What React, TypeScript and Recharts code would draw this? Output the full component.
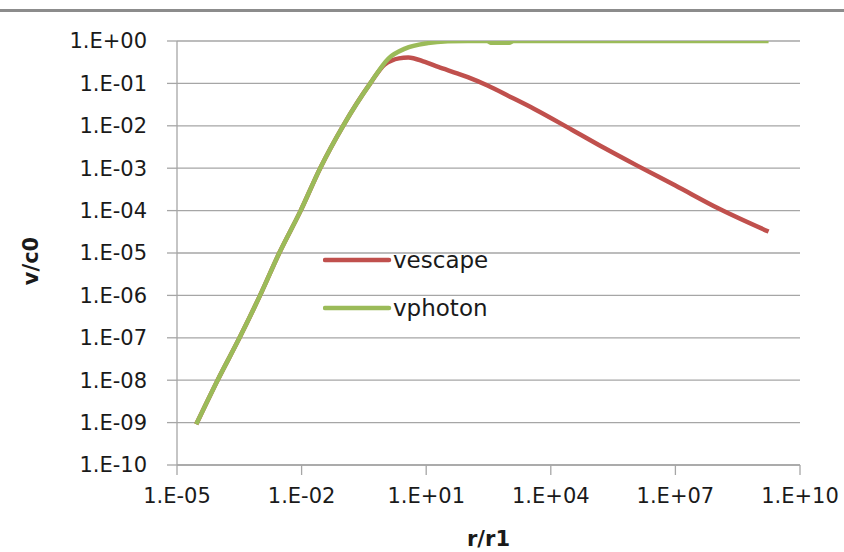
import React from "react";
import { LineChart, Line, XAxis, YAxis, CartesianGrid, Label } from "recharts";

// r/r1 and v/c0 (log-log)
const escapeR = [2.9e-5, 9.5e-5, 3.2e-4, 1e-3, 2.9e-3, 9.5e-3, 0.028, 0.1, 0.45, 1.0, 1.5, 2.2, 3.7, 9.3, 19.5, 58, 100, 300, 1070, 4000, 3.2e4, 2.0e5, 1.2e6, 1e7, 1.1e8, 1.75e9];
const escapeV = [9.1e-10, 1e-8, 1e-7, 1e-6, 1e-5, 1e-4, 1e-3, 0.01, 0.1, 0.28, 0.35, 0.39, 0.41, 0.32, 0.245, 0.17, 0.14, 0.089, 0.048, 0.025, 8.1e-3, 2.95e-3, 1.15e-3, 3.9e-4, 1.12e-4, 3.2e-5];

const photonR = [2.9e-5, 9.5e-5, 3.2e-4, 1e-3, 2.9e-3, 9.5e-3, 0.028, 0.1, 0.45, 1.25, 3.1, 11, 33, 100, 300, 355, 1000, 1260, 1e4, 1e6, 1e8, 1.75e9];
const photonV = [9.1e-10, 1e-8, 1e-7, 1e-6, 1e-5, 1e-4, 1e-3, 0.01, 0.1, 0.39, 0.66, 0.89, 0.98, 1, 1, 0.91, 0.91, 1, 1, 1, 1, 1];

const xTicks = [1e-5, 1e-2, 1e1, 1e4, 1e7, 1e10];
const yTicks = [1e-10, 1e-9, 1e-8, 1e-7, 1e-6, 1e-5, 1e-4, 1e-3, 1e-2, 1e-1, 1];

const seriesNames = ["vescape", "vphoton"];
const COLORS = ["#C0504D", "#9BBB59"];

const escapeData = escapeR.map((r, i) => ({ r, v: escapeV[i] }));
const photonData = photonR.map((r, i) => ({ r, v: photonV[i] }));

// Excel style "1.E-05"
const fmt = (v: number) => {
  const e = Math.round(Math.log10(v));
  return `1.E${e < 0 ? "-" : "+"}${String(Math.abs(e)).padStart(2, "0")}`;
};

const FONT = "'DejaVu Sans', sans-serif";
const tickStyle = { fontSize: 21, fill: "#1a1a1a", fontFamily: FONT };

// legend sits inside the plot, drawn as an overlay so it takes no room from the chart
function LegendBox() {
  return (
    <div style={{ position: "absolute", left: 323, top: 236, fontFamily: FONT, fontSize: 23, color: "#1a1a1a" }}>
      {seriesNames.map((name, i) => (
        <div key={name} style={{ display: "flex", alignItems: "center", height: 48 }}>
          <svg width={70} height={10}>
            <line x1={2} y1={5} x2={66} y2={5} stroke={COLORS[i]} strokeWidth={4.5} strokeLinecap="round" />
          </svg>
          <span>{name}</span>
        </div>
      ))}
    </div>
  );
}

export default function App() {
  return (
    <div style={{ position: "absolute", left: 0, top: 0, width: 844, height: 552, background: "#fff" }}>
      <div style={{ position: "absolute", left: 0, top: 9, width: 844, height: 3, background: "#8c8c8c" }} />
      <LineChart width={844} height={552} margin={{ top: 41, right: 44, left: 0, bottom: 0 }}>
        <CartesianGrid vertical={false} stroke="#a6a6a6" strokeWidth={1.3} />
        <XAxis
          dataKey="r"
          type="number"
          scale="log"
          domain={[1e-5, 1e10]}
          allowDataOverflow
          ticks={xTicks}
          tickFormatter={fmt}
          tick={tickStyle}
          tickSize={10}
          tickMargin={13}
          height={87}
          stroke="#a6a6a6"
          strokeWidth={1.3}
        >
          <Label value="r/r1" position="insideBottom" offset={6} style={{ fontFamily: FONT, fontSize: 21, fontWeight: "bold", fill: "#1a1a1a" }} />
        </XAxis>
        <YAxis
          dataKey="v"
          type="number"
          scale="log"
          domain={[1e-10, 1]}
          allowDataOverflow
          ticks={yTicks}
          tickFormatter={fmt}
          tick={tickStyle}
          tickSize={10}
          tickMargin={20}
          width={177}
          stroke="#a6a6a6"
          strokeWidth={1.3}
        >
          <Label
            content={() => (
              <text x={31} y={261} transform="rotate(-90 31 261)" textAnchor="middle" dominantBaseline="central" style={{ fontFamily: FONT, fontSize: 21, fontWeight: "bold", fill: "#1a1a1a" }}>
                v/c0
              </text>
            )}
          />
        </YAxis>
        <Line data={escapeData} dataKey="v" name="vescape" type="monotone" stroke={COLORS[0]} strokeWidth={4.5} dot={false} isAnimationActive={false} />
        <Line data={photonData} dataKey="v" name="vphoton" type="monotone" stroke={COLORS[1]} strokeWidth={4.5} dot={false} isAnimationActive={false} />
      </LineChart>
      <LegendBox />
    </div>
  );
}
